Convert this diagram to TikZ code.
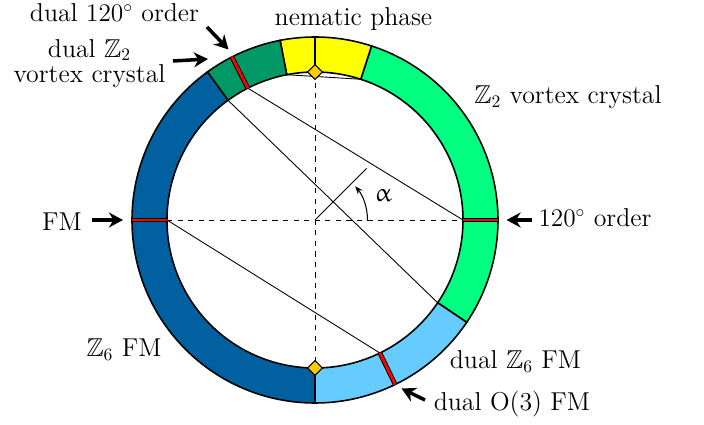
\documentclass[tikz,border=0pt]{standalone}
\usepackage{amsmath}
\usepackage{amssymb}
\usepackage{upgreek}
\usepackage{tikz}
\usetikzlibrary{arrows.meta,positioning,shapes.geometric,calc}

\definecolor{zsixblue}{RGB}{0,96,160}
\definecolor{dualblue}{RGB}{102,204,255}
\definecolor{vortexgreen}{RGB}{0,255,128}
\definecolor{dualgreen}{RGB}{0,153,102}
\definecolor{nemyellow}{RGB}{255,255,0}
\definecolor{pointgold}{RGB}{255,204,0}
\newcommand{\ringin}{2.96}
\newcommand{\ringout}{3.66}

\begin{document}
\begin{tikzpicture}[
    sector/.style={draw, line width=0.9pt},
    redbar/.style={double=red, double distance=1.6pt, line width=0.55pt},
    chord/.style={line width=0.5pt},
    axis/.style={dashed, line width=0.5pt},
    pointer/.style={-{Stealth[length=8pt,width=8.5pt]}, line width=2pt},
    anglearrow/.style={-{Stealth[length=4.5pt,width=3.5pt]}, line width=0.6pt},
    marker/.style={draw, diamond, fill=pointgold, line width=0.6pt, inner sep=0pt, minimum width=0.3cm, minimum height=0.3cm},
    lab/.style={font=\fontsize{14.7}{17}\selectfont, anchor=base, inner sep=0pt}
  ]
    \useasboundingbox (-6.3,-4.08) rectangle (7.78,4.4);

    \draw[sector, fill=vortexgreen] (-34:\ringin) arc (-34:72:\ringin) -- (72:\ringout) arc (72:-34:\ringout) -- cycle;
    \draw[sector, fill=nemyellow] (72:\ringin) arc (72:90:\ringin) -- (90:\ringout) arc (90:72:\ringout) -- cycle;
    \draw[sector, fill=nemyellow] (90:\ringin) arc (90:101:\ringin) -- (101:\ringout) arc (101:90:\ringout) -- cycle;
    \draw[sector, fill=dualgreen] (101:\ringin) arc (101:126:\ringin) -- (126:\ringout) arc (126:101:\ringout) -- cycle;
    \draw[sector, fill=zsixblue] (126:\ringin) arc (126:270:\ringin) -- (270:\ringout) arc (270:126:\ringout) -- cycle;
    \draw[sector, fill=dualblue] (270:\ringin) arc (270:326:\ringin) -- (326:\ringout) arc (326:270:\ringout) -- cycle;

    \coordinate (o) at (0,0);
    \coordinate (fmin) at (180:\ringin);
    \coordinate (fmout) at (180:\ringout);
    \coordinate (triin) at (0:\ringin);
    \coordinate (triout) at (0:\ringout);
    \coordinate (dtriin) at (117:\ringin);
    \coordinate (dtriout) at (117:\ringout);
    \coordinate (do3in) at (-64:\ringin);
    \coordinate (do3out) at (-64:\ringout);
    \coordinate (dgin) at (126:\ringin);
    \coordinate (lgin) at (-34:\ringin);
    \coordinate (neml) at (101:\ringin);
    \coordinate (nemr) at (72:\ringin);
    \coordinate (topin) at (90:\ringin);
    \coordinate (botin) at (-90:\ringin);

    \draw[chord] (dtriin) -- (triin);
    \draw[chord] (dgin) -- (lgin);
    \draw[chord] (fmin) -- (do3in);
    \draw[chord] (neml) -- (nemr);
    \draw[axis] (fmin) -- (triin);
    \draw[axis] (topin) -- (botin);

    \draw[redbar] (fmin) -- (fmout);
    \draw[redbar] (triin) -- (triout);
    \draw[redbar] (dtriin) -- (dtriout);
    \draw[redbar] (do3in) -- (do3out);

    \node[marker] (nemtop) at (topin) {};
    \node[marker] (nembot) at (botin) {};

    \coordinate (alphaend) at (45:1.46);
    \coordinate (arcstart) at (1.05,0);
    \draw[chord] (o) -- (alphaend);
    \draw[anglearrow] (arcstart) arc[start angle=0, end angle=40, radius=1.05];
    \node[font=\fontsize{14.7}{17}\selectfont, inner sep=0pt] (alphalab) at (1.37,0.48) {$\upalpha$};

    \node[lab] (nematic) at (0.77,3.9) {nematic phase};
    \node[lab] (dualtri) at (-4.01,3.96) {dual $120^\circ$ order};
    \node[font=\fontsize{14.7}{14.6}\selectfont, align=center, inner sep=0pt] (dualvortex) at (-4.51,3.13) {dual $\mathbb{Z}_2$\\vortex crystal};
    \node[lab] (fm) at (-5.06,-0.21) {FM};
    \node[lab] (tri) at (5.6,-0.13) {$120^\circ$ order};
    \node[lab] (vortex) at (5.06,2.33) {$\mathbb{Z}_2$ vortex crystal};
    \node[lab] (zsix) at (-3.82,-2.73) {$\mathbb{Z}_6$ FM};
    \node[lab] (dualzsix) at (4.01,-2.97) {dual $\mathbb{Z}_6$ FM};
    \node[lab] (dualothree) at (3.94,-3.8) {dual O(3) FM};

    \coordinate (fmtail) at (-4.46,0);
    \coordinate (fmtip) at (-3.84,0);
    \coordinate (tritail) at (4.33,0);
    \coordinate (tritip) at (3.83,0);
    \coordinate (dvtail) at (-2.84,3.18);
    \coordinate (dvtip) at (-2.14,3.22);
    \coordinate (dttail) at (-2.16,3.86);
    \coordinate (dttip) at (-1.73,3.41);
    \coordinate (dotail) at (2.2,-3.6);
    \coordinate (dotip) at (1.73,-3.37);

    \draw[pointer] (fmtail) -- (fmtip);
    \draw[pointer] (tritail) -- (tritip);
    \draw[pointer] (dvtail) -- (dvtip);
    \draw[pointer] (dttail) -- (dttip);
    \draw[pointer] (dotail) -- (dotip);
  \end{tikzpicture}
\end{document}
